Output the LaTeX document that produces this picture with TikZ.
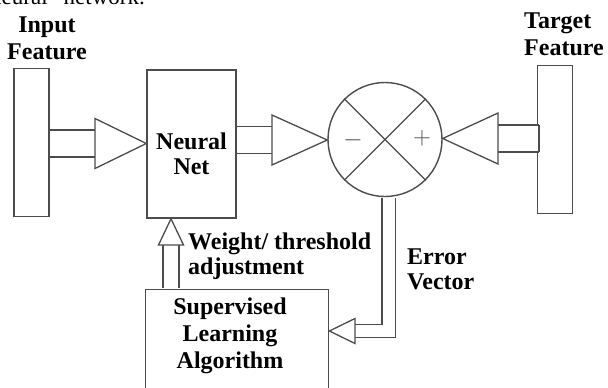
\documentclass[tikz,border=0pt]{standalone}
\usepackage{fontspec}
\setmainfont{Liberation Serif}
\usepackage{tikz}
\usetikzlibrary{positioning,calc}
\definecolor{linegray}{gray}{0.3}

\begin{document}
\begin{tikzpicture}[
    x=1pt, y=-1pt,
    bar/.style={rectangle, draw=linegray, line width=1.4pt, minimum width=35pt, minimum height=148pt, inner sep=0pt},
    block/.style={rectangle, draw=linegray, line width=1.4pt, inner sep=0pt},
    lbl/.style={inner sep=0pt, font=\bfseries\fontsize{24}{27}\selectfont},
    tight/.style={font=\bfseries\fontsize{24}{24.5}\selectfont},
    shaft/.style={draw=linegray, line width=1.3pt, double=white, double distance=25.5pt, shorten <=0.7pt},
    head/.style={draw=linegray, line width=1.3pt, fill=white, line join=miter},
    sign/.style={inner sep=0pt, text=linegray, font=\fontsize{27}{27}\selectfont}
]
\useasboundingbox (0,0) rectangle (608,388);
\clip (0,0) rectangle (608,388);

\node[anchor=base east, inner sep=0pt, font=\fontsize{23}{23}\selectfont] (caption) at (145,5) {neural\hspace{16pt}network.};

\node[bar] (inbar) at (31.5,142.5) {};
\node[block, minimum width=89pt, minimum height=148pt] (net) at (191.5,144) {};
\node[circle, draw=linegray, line width=1.4pt, minimum size=114pt, inner sep=0pt] (sum) at (385,139.5) {};
\node[bar] (tgtbar) at (555,139.5) {};
\node[block, minimum width=183pt, minimum height=140pt, anchor=north west] (sla) at (145,289) {};

\draw[linegray, line width=1.2pt] (sum.north west) -- (sum.south east) (sum.north east) -- (sum.south west);
\node[sign] (minus) at (353,140) {$-$};
\node[sign] (plus) at (422,138) {$+$};

\coordinate (inbase) at (95,143.5);
\coordinate (outbase) at (272,140);
\coordinate (tgtbase) at (498,138.5);
\coordinate (upbase) at (171,245);
\coordinate (errbase) at (355,331);

\draw[shaft] (inbar.east |- inbase) -- (inbase);
\draw[head] ([yshift=25pt]inbase) -- (net.west |- inbase) -- ([yshift=-25pt]inbase) -- cycle;

\draw[shaft] (net.east |- outbase) -- (outbase);
\draw[head] ([yshift=25pt]outbase) -- (sum.west |- outbase) -- ([yshift=-25pt]outbase) -- cycle;

\draw[shaft, shorten <=0pt] (tgtbase) -- ([xshift=2pt]tgtbar.west |- tgtbase);
\draw[linegray, line width=1.6pt] ([xshift=2pt,yshift=13.5pt]tgtbar.west |- tgtbase) -- ([xshift=2pt,yshift=-13.5pt]tgtbar.west |- tgtbase);
\draw[head] ([yshift=25.5pt]tgtbase) -- (sum.east |- tgtbase) -- ([yshift=-25.5pt]tgtbase) -- cycle;

\draw[shaft, double distance=14.5pt] (sla.north -| upbase) -- (upbase);
\draw[head] ([xshift=-12.5pt]upbase) -- (net.south -| upbase) -- ([xshift=12.5pt]upbase) -- cycle;

\draw[shaft, double distance=12pt] ([xshift=3.5pt]sum.south) |- (errbase);
\draw[head] ([yshift=-12.5pt]errbase) -- (sla.east |- errbase) -- ([yshift=12.5pt]errbase) -- cycle;

\node[lbl, align=center, anchor=north] (intext) at (47,17) {Input\\Feature};
\node[lbl, tight, align=center, anchor=north] (nettext) at (191.5,133) {Neural\\Net};
\node[lbl, align=left, anchor=north west] (tgttext) at (524,13) {Target\\Feature};
\node[lbl, tight, align=left, anchor=north west] (wtext) at (188,233) {Weight/ threshold\\adjustment};
\node[lbl, tight, align=left, anchor=north west] (errtext) at (407,249) {Error\\Vector};
\node[lbl, align=center, anchor=north] (slatext) at (230,298) {Supervised\\Learning\\Algorithm};

\end{tikzpicture}
\end{document}
